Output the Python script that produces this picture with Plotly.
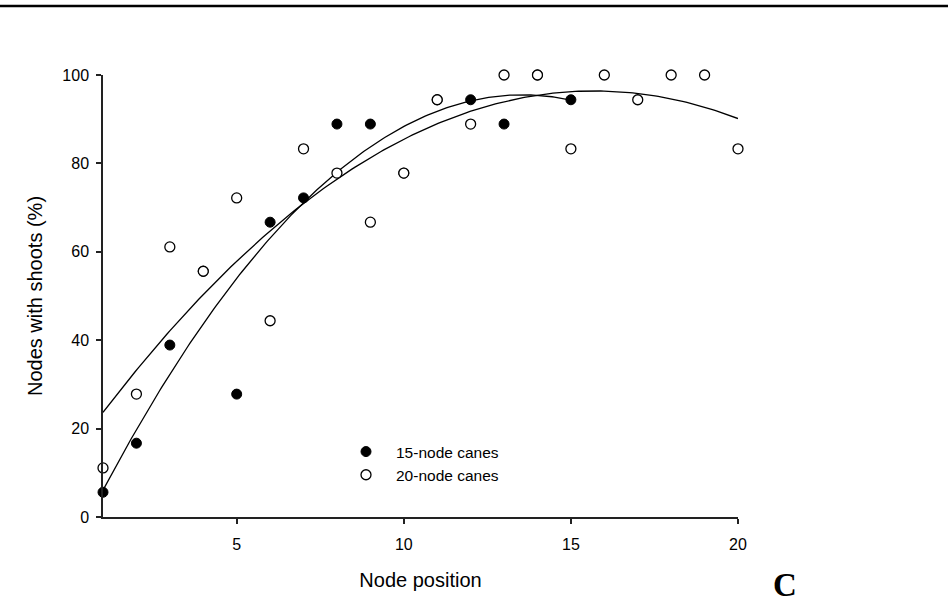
import numpy as np
import plotly.graph_objects as go

# ---- data ----
# 15-node canes: points at x=4, 10, 11, 14 sit under the open markers
x15 = [1, 2, 3, 4, 5, 6, 7, 8, 9, 10, 11, 12, 13, 14, 15]
y15 = [5.6, 16.7, 38.9, 55.6, 27.8, 66.7, 72.2, 88.9, 88.9, 77.8,
       94.4, 94.4, 88.9, 100.0, 94.4]

x20 = list(range(1, 21))
y20 = [11.1, 27.8, 61.1, 55.6, 72.2, 44.4, 83.3, 77.8, 66.7, 77.8,
       94.4, 88.9, 100.0, 100.0, 83.3, 100.0, 94.4, 100.0, 100.0, 83.3]

series_names = ["15-node canes", "20-node canes"]
x_ticks = [5, 10, 15, 20]
y_ticks = [0, 20, 40, 60, 80, 100]

# quadratic regression curves
def quad_curve(xs, ys):
    c = np.polyfit(xs, ys, 2)
    xx = np.linspace(min(xs), max(xs), 200)
    return xx, np.polyval(c, xx)

fx15, fy15 = quad_curve(x15, y15)
fx20, fy20 = quad_curve(x20, y20)

FONT = "Liberation Sans, Arial, sans-serif"

fig = go.Figure()
fig.add_trace(go.Scatter(x=fx15, y=fy15, mode="lines",
                         line=dict(color="black", width=1.3),
                         showlegend=False, hoverinfo="skip"))
fig.add_trace(go.Scatter(x=fx20, y=fy20, mode="lines",
                         line=dict(color="black", width=1.3),
                         showlegend=False, hoverinfo="skip"))
fig.add_trace(go.Scatter(x=x15, y=y15, mode="markers", name=series_names[0],
                         marker=dict(symbol="circle", size=10, color="black",
                                     line=dict(color="black", width=1)),
                         cliponaxis=False))
fig.add_trace(go.Scatter(x=x20, y=y20, mode="markers", name=series_names[1],
                         marker=dict(symbol="circle", size=10, color="white",
                                     line=dict(color="black", width=1.3)),
                         cliponaxis=False))

L, R, T, B = 103, 210, 75, 88
W, H = 948, 605
pw = W - L - R
ph = H - T - B

fig.update_layout(
    width=W, height=H,
    margin=dict(l=L, r=R, t=T, b=B),
    paper_bgcolor="white", plot_bgcolor="white",
    font=dict(family=FONT, size=16, color="black"),
    showlegend=True,
    legend=dict(x=(336 - L) / pw, y=(517 - 435) / ph, xanchor="left", yanchor="top",
                bgcolor="rgba(0,0,0,0)", font=dict(size=15.5, family=FONT),
                tracegroupgap=0, itemwidth=50),
    xaxis=dict(range=[1, 20], tickvals=x_ticks, showgrid=False, zeroline=False,
               showline=True, linecolor="#222", linewidth=1.5,
               ticks="outside", ticklen=5, tickwidth=1.5, tickcolor="#222",
               ticklabelstandoff=7,
               title=dict(text="Node position", font=dict(size=20, family=FONT), standoff=21)),
    yaxis=dict(range=[0, 100], tickvals=y_ticks, showgrid=False, zeroline=False,
               showline=True, linecolor="#222", linewidth=1.5,
               ticks="outside", ticklen=5, tickwidth=1.5, tickcolor="#222",
               ticklabelstandoff=4,
               title=dict(text="Nodes with shoots (%)", font=dict(size=20, family=FONT), standoff=14)),
    shapes=[dict(type="line", xref="paper", yref="paper",
                 x0=-L / pw, x1=(W - L) / pw,
                 y0=(H - B - 6) / ph, y1=(H - B - 6) / ph,
                 line=dict(color="black", width=2.5))],
    annotations=[dict(text="<b>C</b>", xref="paper", yref="paper",
                      x=(785 - L) / pw, y=-(585 - (H - B)) / ph,
                      xanchor="center", yanchor="middle", showarrow=False,
                      font=dict(family="Liberation Serif, Times New Roman, serif",
                                size=33, color="black"))],
)

fig.write_html("out.html")
